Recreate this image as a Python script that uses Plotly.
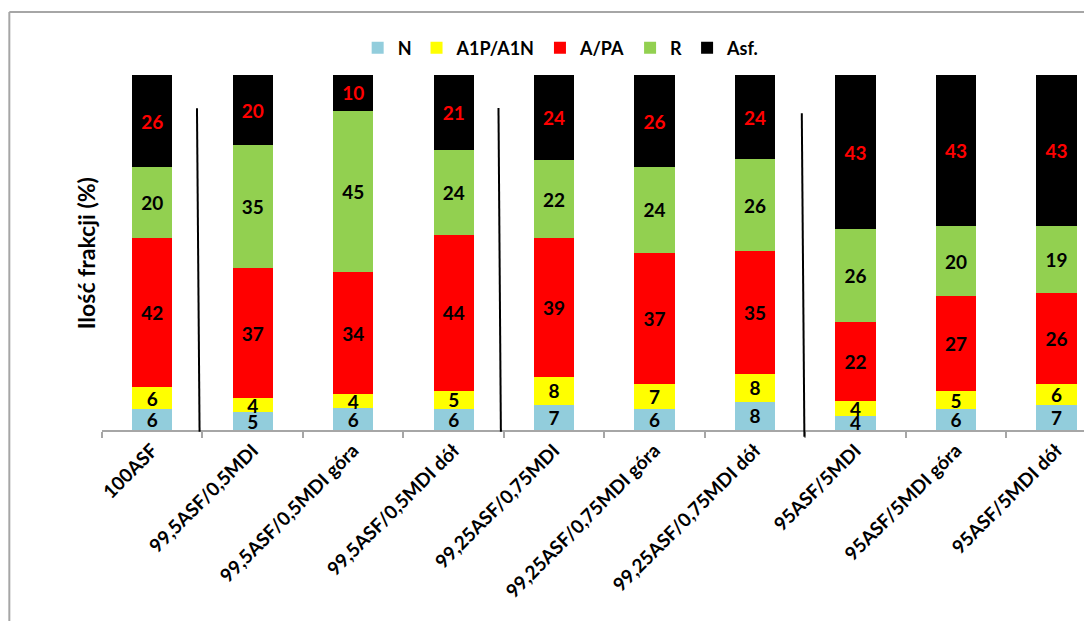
import plotly.graph_objects as go

categories = ["100ASF", "99,5ASF/0,5MDI", "99,5ASF/0,5MDI góra", "99,5ASF/0,5MDI dół",
              "99,25ASF/0,75MDI", "99,25ASF/0,75MDI góra", "99,25ASF/0,75MDI dół",
              "95ASF/5MDI", "95ASF/5MDI góra", "95ASF/5MDI dół"]
n_vals = [6, 5, 6, 6, 7, 6, 8, 4, 6, 7]
a1p_vals = [6, 4, 4, 5, 8, 7, 8, 4, 5, 6]
apa_vals = [42, 37, 34, 44, 39, 37, 35, 22, 27, 26]
r_vals = [20, 35, 45, 24, 22, 24, 26, 26, 20, 19]
asf_vals = [26, 20, 10, 21, 24, 26, 24, 43, 43, 43]

series = [
    ("N", n_vals, "#92CDDC", "black"),
    ("A1P/A1N", a1p_vals, "#FFFF00", "black"),
    ("A/PA", apa_vals, "#FF0000", "black"),
    ("R", r_vals, "#92D050", "black"),
    ("Asf.", asf_vals, "#000000", "#FF0000"),
]

FONT = "Lato"
fig = go.Figure()
for name, vals, color, tcolor in series:
    fig.add_trace(go.Bar(
        x=categories, y=vals, name=name,
        marker=dict(color=color, line=dict(width=0)),
        text=[str(v) for v in vals],
        textposition="inside", insidetextanchor="middle",
        textangle=0, constraintext="none",
        textfont=dict(family=FONT, size=19, color=tcolor, weight="bold"),
        hoverinfo="skip",
    ))

# page has an 8px body margin: figure coords = screen coords - 8
OFF = 8
W, H = 1092 - OFF, 621 - OFF
L, T, B = 101.7 - OFF, 75 - OFF, 430 - OFF
pw = W - L
ph = B - T

def px(x):
    return (x - OFF - L) / pw

def py(y):
    return (B - (y - OFF)) / ph

shapes = []
# outer frame
shapes.append(dict(type="line", xref="paper", yref="paper", x0=px(9), x1=px(9),
                   y0=py(12), y1=py(640), line=dict(color="#A6A6A6", width=2)))
shapes.append(dict(type="line", xref="paper", yref="paper", x0=px(9), x1=px(1100),
                   y0=py(12), y1=py(12), line=dict(color="#A6A6A6", width=2)))
# separator lines
for (xt, yt, xb, yb) in [(196.7, 108.3, 199.3, 431.7),
                         (498.3, 108.0, 500.7, 431.7),
                         (801.7, 113.3, 804.3, 436.7)]:
    shapes.append(dict(type="line", xref="paper", yref="paper",
                       x0=px(xt), y0=py(yt), x1=px(xb), y1=py(yb),
                       line=dict(color="black", width=2)))

fig.update_layout(
    width=W, height=H,
    margin=dict(l=L, r=0, t=T, b=H - B, pad=0, autoexpand=False),
    barmode="stack", barnorm="percent", bargap=0.6,
    plot_bgcolor="white", paper_bgcolor="white",
    font=dict(family=FONT, color="black"),
    showlegend=True,
    legend=dict(orientation="h", x=px(561), y=py(48), xanchor="center", yanchor="middle",
                font=dict(family=FONT, size=18, weight="bold"),
                traceorder="normal", itemwidth=30, bgcolor="rgba(0,0,0,0)"),
    xaxis=dict(range=[-0.5, -0.5 + pw / 100.5], tickangle=-45,
               tickfont=dict(family=FONT, size=19, weight="bold", color="black"),
               showline=True, linecolor="#A6A6A6", linewidth=2,
               ticks="outside", tickson="boundaries", ticklen=6, tickcolor="#A6A6A6",
               tickwidth=2, showgrid=False, zeroline=False, fixedrange=True),
    yaxis=dict(range=[0, 100], showticklabels=False, showgrid=False, zeroline=False,
               showline=False, ticks="", fixedrange=True),
    shapes=shapes,
    annotations=[dict(text="Ilość frakcji (%)", xref="paper", yref="paper",
                      x=px(86), y=py(253), xanchor="center", yanchor="middle",
                      textangle=-90, showarrow=False,
                      font=dict(family=FONT, size=23, weight="bold", color="black"))],
)

fig.write_html("out.html")
